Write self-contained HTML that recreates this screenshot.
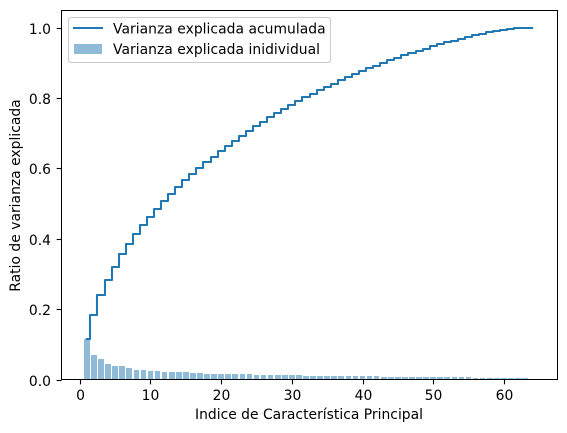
<!DOCTYPE html>
<html lang="es">
<head>
<meta charset="utf-8">
<title>Varianza explicada</title>
<style>
html,body{margin:0;padding:0;background:#fff;}
svg{display:block;}
text{font-family:"DejaVu Sans",sans-serif;font-size:13.89px;fill:#000;}
</style>
</head>
<body>
<svg id="chart" xmlns="http://www.w3.org/2000/svg" width="567" height="433" viewBox="0 0 567 433">
  <rect x="0" y="0" width="567" height="433" fill="#fff"/>
  <g id="bars"></g>
  <g id="line"></g>
  <g id="xticks"></g>
  <g id="yticks"></g>
  <rect x="61.5" y="10.5" width="496" height="369" fill="none" stroke="#000" stroke-width="1.11" shape-rendering="crispEdges"/>
  <text x="195" y="419" textLength="228" lengthAdjust="spacing">Indice de Característica Principal</text>
  <text transform="translate(20,291.7) rotate(-90)" textLength="192.4" lengthAdjust="spacing">Ratio de varianza explicada</text>
  <g>
    <rect x="68.5" y="17.5" width="262" height="45" rx="2.8" ry="2.8" fill="#fff" fill-opacity="0.8" stroke="#ccc" stroke-opacity="1" stroke-width="1.11"/>
    <line x1="73" y1="28" x2="103" y2="28" stroke="#1f77b4" stroke-width="2.08"/>
    <text x="113" y="33.5" textLength="212.6" lengthAdjust="spacing">Varianza explicada acumulada</text>
    <rect x="74" y="44" width="28" height="10" fill="#1f77b4" fill-opacity="0.5"/>
    <text x="113" y="54" textLength="207" lengthAdjust="spacing">Varianza explicada inidividual</text>
  </g>
</svg>
<script>
const components = [1,2,3,4,5,6,7,8,9,10,11,12,13,14,15,16,17,18,19,20,21,22,23,24,25,26,27,28,29,30,31,32,33,34,35,36,37,38,39,40,41,42,43,44,45,46,47,48,49,50,51,52,53,54,55,56,57,58,59,60,61,62,63,64];
const individualVariance = [0.1146,0.069,0.058,0.0436,0.038,0.0375,0.032,0.0265,0.0262,0.0237,0.0232,0.021,0.0208,0.0206,0.0205,0.018,0.0178,0.0152,0.0152,0.0152,0.0152,0.0152,0.0152,0.0152,0.0123,0.0123,0.0123,0.0123,0.0123,0.0123,0.0123,0.0095,0.0095,0.0095,0.0095,0.0095,0.0095,0.0095,0.0095,0.0095,0.0095,0.0095,0.0066,0.0066,0.0066,0.0066,0.0066,0.0066,0.0066,0.0066,0.0066,0.0066,0.0066,0.0066,0.0066,0.0035,0.0035,0.0035,0.0035,0.0035,0.0035,0.0035,0.0035,0.0005];
const cumulativeVariance = [0.115,0.1836,0.2405,0.282,0.32,0.357,0.385,0.4137,0.439,0.462,0.485,0.5075,0.527,0.547,0.567,0.584,0.601,0.618,0.632,0.649,0.664,0.678,0.691,0.706,0.72,0.732,0.745,0.7566,0.768,0.78,0.7915,0.802,0.8125,0.822,0.8305,0.839,0.85,0.86,0.8675,0.877,0.884,0.89,0.8985,0.907,0.9137,0.922,0.928,0.9336,0.939,0.9477,0.9525,0.959,0.962,0.9676,0.973,0.979,0.982,0.9875,0.99,0.993,0.996,0.9987,0.9995,1.0];
const xTickLabels = ["0","10","20","30","40","50","60"];
const yTickLabels = ["0.0","0.2","0.4","0.6","0.8","1.0"];
const barWidth = 0.8;

const NS = "http://www.w3.org/2000/svg";
const PLOT = {left:61.5, right:557.5, top:10, bottom:379.5};
const XMIN = -2.59, XMAX = 67.59, YMIN = 0, YMAX = 1.05;
function xScale(v){ return PLOT.left + (v - XMIN) / (XMAX - XMIN) * (PLOT.right - PLOT.left); }
function yScale(v){ return PLOT.bottom - (v - YMIN) / (YMAX - YMIN) * (PLOT.bottom - PLOT.top); }
function make(tag, attrs){
  const el = document.createElementNS(NS, tag);
  for (const k in attrs) el.setAttribute(k, attrs[k]);
  return el;
}

const barsGroup = document.getElementById("bars");
components.forEach(function(c, i){
  const x0 = Math.round(xScale(c - barWidth / 2));
  const x1 = Math.round(xScale(c + barWidth / 2));
  const yTop = Math.round(yScale(individualVariance[i]));
  const yBase = Math.round(yScale(0));
  const bar = make("rect", {x:x0, y:yTop, width:Math.max(x1 - x0, 1), height:Math.max(yBase - yTop, 0), fill:"#1f77b4", "fill-opacity":0.5, "shape-rendering":"crispEdges"});
  
  
  barsGroup.appendChild(bar);
});

let pathData = "";
components.forEach(function(c, i){
  const y = Math.round(yScale(cumulativeVariance[i]));
  if (i === 0) {
    pathData += "M" + xScale(c).toFixed(2) + " " + y;
  } else {
    const xm = Math.round(xScale(c - 0.5));
    pathData += "H" + xm + "V" + y;
  }
});
pathData += "H" + xScale(components[components.length - 1]).toFixed(2);
const stepLine = make("path", {d:pathData, fill:"none", stroke:"#1f77b4", "stroke-width":2.08, "stroke-linejoin":"round", "stroke-linecap":"square"});


document.getElementById("line").appendChild(stepLine);

const xTicksGroup = document.getElementById("xticks");
xTickLabels.forEach(function(label){
  const px = Math.round(xScale(Number(label))) + 0.5;
  const tick = make("line", {x1:px, x2:px, y1:PLOT.bottom, y2:PLOT.bottom + 4.86, stroke:"#000", "stroke-width":1.11});
  
  
  xTicksGroup.appendChild(tick);
  const txt = make("text", {x:px, y:400, "text-anchor":"middle"});
  
  
  txt.textContent = label;
  xTicksGroup.appendChild(txt);
});

const yTicksGroup = document.getElementById("yticks");
yTickLabels.forEach(function(label){
  const py = Math.round(yScale(Number(label))) + 0.5;
  const tick = make("line", {x1:PLOT.left - 4.86, x2:PLOT.left, y1:py, y2:py, stroke:"#000", "stroke-width":1.11});
  
  
  yTicksGroup.appendChild(tick);
  const txt = make("text", {x:PLOT.left - 10.5, y:py + 5.5, "text-anchor":"end"});
  
  
  txt.textContent = label;
  yTicksGroup.appendChild(txt);
});
</script>
</body>
</html>
